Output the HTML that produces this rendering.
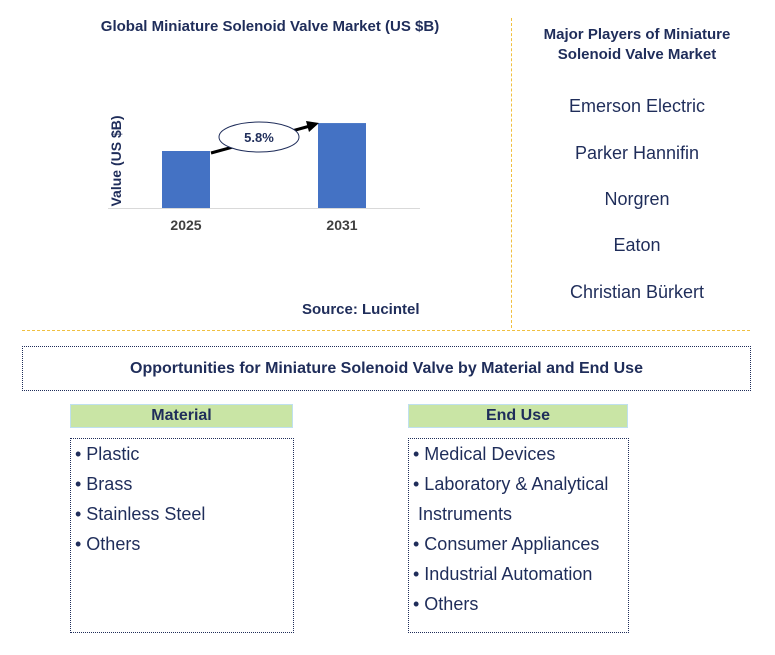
<!DOCTYPE html>
<html><head><meta charset="utf-8"><style>
body{margin:0;width:775px;height:655px;background:#fff;font-family:"Liberation Sans",sans-serif;position:relative;overflow:hidden}
.a{position:absolute}
.t{color:#1f2d5a;font-weight:bold}
.pl{color:#1f2d5a;font-size:18px;text-align:center;width:250px;left:512px}
.hd{background:#c9e5a5;border:1px solid #bfe0ef;text-align:center;font-weight:bold;color:#1f2d5a;font-size:16px;line-height:22px;height:22px}
.box{border:1px dotted #1f2d5a;border-top:1px dotted #1f2d5a}
.li{color:#1f2d5a;font-size:18px;line-height:30px}
</style></head><body>
<div class="a t" style="left:60px;top:18px;width:420px;text-align:center;font-size:15px">Global Miniature Solenoid Valve Market (US $B)</div>
<svg class="a" style="left:0;top:0" width="500" height="320">
<text transform="translate(121,161) rotate(-90)" text-anchor="middle" font-size="14" font-weight="bold" fill="#1f2d5a" font-family="Liberation Sans">Value (US $B)</text>
<line x1="108" y1="208.5" x2="420" y2="208.5" stroke="#d9d9d9"/>
<g id="bars"></g>
<line x1="211" y1="153" x2="310" y2="126" stroke="#000" stroke-width="3"/>
<polygon points="319,123 306,121 309,132" fill="#000"/>
<ellipse cx="259" cy="137" rx="40" ry="15" fill="#fff" stroke="#1f2d5a" stroke-width="1"/>
<text x="259" y="142" text-anchor="middle" font-size="13" font-weight="bold" fill="#1f2d5a" font-family="Liberation Sans">5.8%</text>
</svg>
<div class="a t" style="left:302px;top:301px;font-size:15px">Source: Lucintel</div>
<div class="a" style="left:511px;top:18px;height:310px;border-left:1px dashed #f0c040"></div>
<div class="a" style="left:22px;top:330px;width:728px;border-top:1px dashed #f0c040"></div>
<div class="a t" style="left:512px;top:25px;width:250px;text-align:center;font-size:15px;line-height:20px">Major Players of Miniature<br>Solenoid Valve Market</div>
<div class="a pl" style="top:96px">Emerson Electric</div>
<div class="a pl" style="top:143px">Parker Hannifin</div>
<div class="a pl" style="top:189px">Norgren</div>
<div class="a pl" style="top:235px">Eaton</div>
<div class="a pl" style="top:282px">Christian Bürkert</div>
<div class="a box t" style="left:22px;top:346px;width:727px;height:43px;line-height:43px;text-align:center;font-size:16px">Opportunities for Miniature Solenoid Valve by Material and End Use</div>
<div class="a hd" style="left:70px;top:404px;width:221px">Material</div>
<div class="a hd" style="left:408px;top:404px;width:218px">End Use</div>
<div class="a box" style="left:70px;top:438px;width:222px;height:193px">
<div class="li" style="padding:0 0 0 4px">• Plastic<br>• Brass<br>• Stainless Steel<br>• Others</div></div>
<div class="a box" style="left:408px;top:438px;width:219px;height:193px">
<div class="li" style="padding:0 0 0 4px">• Medical Devices<br>• Laboratory &amp; Analytical<br>&nbsp;Instruments<br>• Consumer Appliances<br>• Industrial Automation<br>• Others</div></div>
<script>
const categories=["2025","2031"];
const values=[1.0,1.49];
const base=208, pxPerUnit=57, xs=[162,318], bw=48;
const g=document.getElementById('bars');
const ns="http://www.w3.org/2000/svg";
categories.forEach((c,i)=>{
 const h=values[i]*pxPerUnit;
 const r=document.createElementNS(ns,'rect');
 
 
 r.setAttribute('x',xs[i]);r.setAttribute('y',base-h);r.setAttribute('width',bw);r.setAttribute('height',h);r.setAttribute('fill','#4472c4');
 g.appendChild(r);
 const t=document.createElementNS(ns,'text');
 
 
 t.setAttribute('x',xs[i]+bw/2);t.setAttribute('y',230);t.setAttribute('text-anchor','middle');
 t.setAttribute('font-size','14');t.setAttribute('font-weight','bold');t.setAttribute('fill','#404040');t.setAttribute('font-family','Liberation Sans');
 t.textContent=c;g.appendChild(t);
});
</script>
</body></html>
